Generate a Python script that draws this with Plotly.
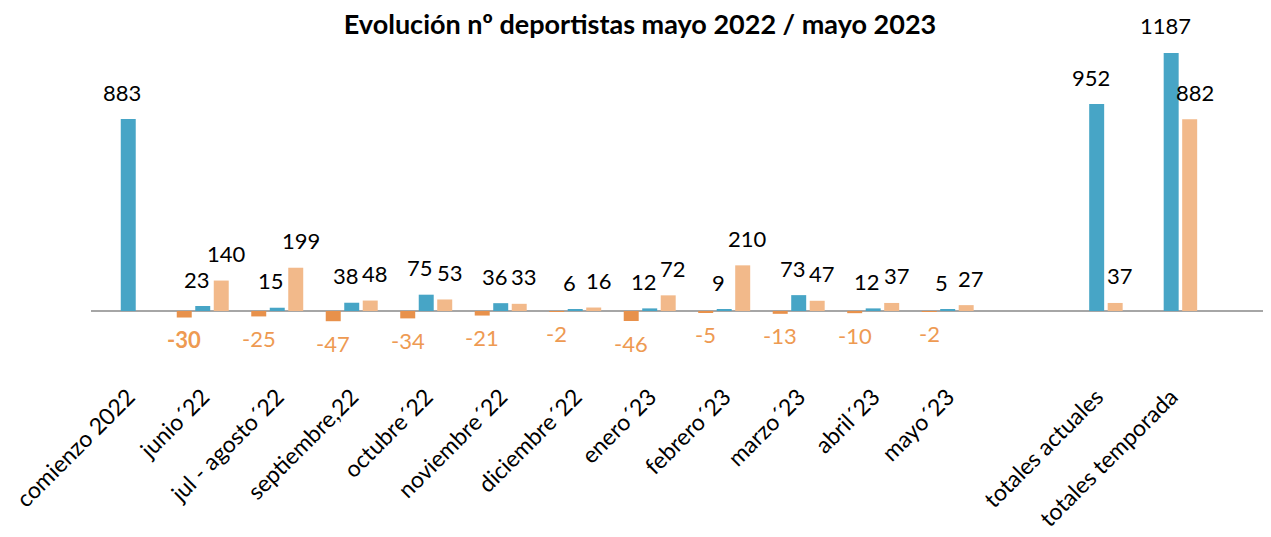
import plotly.graph_objects as go

categories = ["comienzo 2022", "junio´22", "jul - agosto´22", "septiembre,22", "octubre´22",
              "noviembre´22", "diciembre´22", "enero´23", "febrero´23", "marzo´23",
              "abril´23", "mayo´23", " ", "totales actuales", "totales temporada"]
bajas = [None, -30, -25, -47, -34, -21, -2, -46, -5, -13, -10, -2, None, None, None]
actuales = [883, 23, 15, 38, 75, 36, 6, 12, 9, 73, 12, 5, None, 952, 1187]
nuevos = [None, 140, 199, 48, 53, 33, 16, 72, 210, 47, 37, 27, None, 37, 882]
bold_labels = {"-30"}

C_DARK = "#E8914B"
C_BLUE = "#47A5C6"
C_LIGHT = "#F2B98A"
C_NEG_TEXT = "#EE9A52"
FONT = "Lato"

fig = go.Figure()
for name, vals, col in [("Bajas", bajas, C_DARK), ("Altas", actuales, C_BLUE), ("Nuevos", nuevos, C_LIGHT)]:
    fig.add_trace(go.Bar(x=categories, y=vals, name=name, marker=dict(color=col, line=dict(width=0)),
                         hoverinfo="x+y"))

slot = 18.5
# label offsets relative to bar centres (pixels), as in the reference
for offset, vals in [(-slot, bajas), (-6, actuales), (slot + 5, nuevos)]:
    for c, v in zip(categories, vals):
        if v is None:
            continue
        txt = str(v)
        if v < 0:
            fig.add_annotation(x=c, y=v, text=("<b>%s</b>" % txt) if txt in bold_labels else txt,
                               showarrow=False, xshift=offset, yshift=-22, yanchor="middle",
                               font=dict(family=FONT, size=22, color=C_NEG_TEXT))
        else:
            fig.add_annotation(x=c, y=v, text=txt, showarrow=False, xshift=offset, yshift=27,
                               yanchor="middle", font=dict(family=FONT, size=22, color="#000000"))

W, H = 1263, 529  # page adds an 8px body margin
fig.update_layout(
    width=W, height=H,
    margin=dict(l=83, r=0, t=22, b=159, autoexpand=False),
    paper_bgcolor="white", plot_bgcolor="white",
    barmode="group", bargap=0.255, bargroupgap=0.19,
    showlegend=False,
    title=dict(text="<b>Evolución nº deportistas mayo 2022 / mayo 2023</b>",
               x=632 / W, xanchor="center", y=1 - 7 / H, yanchor="top", pad=dict(t=0),
               font=dict(family=FONT, size=27, color="#000000")),
    font=dict(family=FONT),
)
fig.update_xaxes(range=[-0.5, 15.34], tickangle=-45, showline=False, ticks="", automargin=False,
                 tickfont=dict(family=FONT, size=23, color="#000000"), showgrid=False)
fig.update_yaxes(range=[-308.2, 1292.5], showgrid=False, showticklabels=False, automargin=False,
                 zeroline=True, zerolinecolor="#A6A6A6", zerolinewidth=2)

fig.write_html("out.html")
